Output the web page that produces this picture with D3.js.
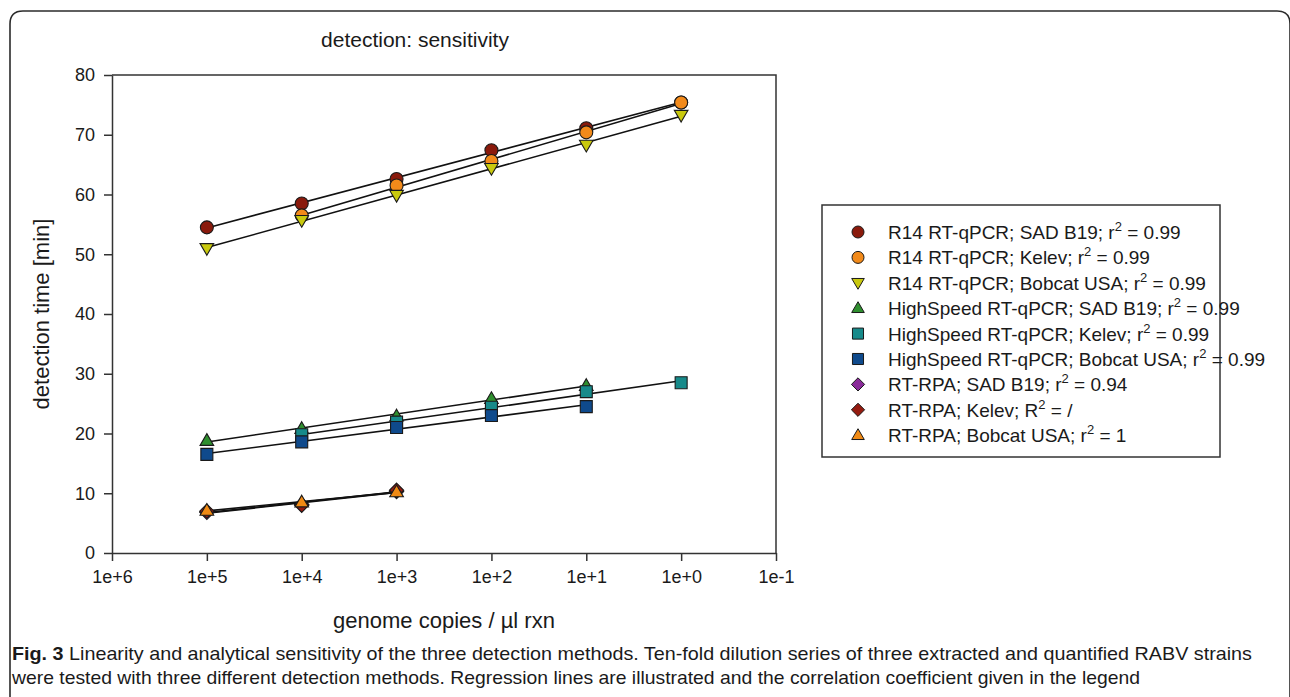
<!DOCTYPE html>
<html>
<head>
<meta charset="utf-8">
<script src="https://cdn.jsdelivr.net/npm/d3@7"></script>
<style>
  html, body { margin: 0; padding: 0; background: #fff; }
  svg { display: block; }
  text { font-family: "Liberation Sans", Arial, sans-serif; fill: #1a1a1a; }
</style>
</head>
<body>
<svg id="chart" width="1290" height="697"></svg>
<script>
// ---------- DATA ----------
const xTicks = [1e6, 1e5, 1e4, 1e3, 1e2, 1e1, 1e0, 1e-1];
const xTickLabels = ["1e+6", "1e+5", "1e+4", "1e+3", "1e+2", "1e+1", "1e+0", "1e-1"];
const yTicks = [0, 10, 20, 30, 40, 50, 60, 70, 80];

const r14SadX = [1e5, 1e4, 1e3, 1e2, 1e1, 1e0];
const r14SadY = [54.5, 58.5, 62.6, 67.4, 71.1, 75.4];
const r14KelevX = [1e4, 1e3, 1e2, 1e1, 1e0];
const r14KelevY = [56.5, 61.5, 65.6, 70.4, 75.4];
const r14BobcatX = [1e5, 1e4, 1e3, 1e2, 1e1, 1e0];
const r14BobcatY = [51.0, 55.7, 59.9, 64.4, 68.3, 73.3];

const hsSadX = [1e5, 1e4, 1e3, 1e2, 1e1];
const hsSadY = [18.8, 20.8, 22.9, 25.8, 28.0];
const hsKelevX = [1e4, 1e3, 1e2, 1e1, 1e0];
const hsKelevY = [19.8, 21.9, 24.4, 27.0, 28.5];
const hsBobcatX = [1e5, 1e4, 1e3, 1e2, 1e1];
const hsBobcatY = [16.5, 18.6, 21.0, 23.0, 24.5];

const rpaSadX = [1e5, 1e4, 1e3];
const rpaSadY = [6.8, 8.1, 10.3];
const rpaKelevX = [1e5, 1e4, 1e3];
const rpaKelevY = [7.0, 8.0, 10.5];
const rpaBobcatX = [1e5, 1e4, 1e3];
const rpaBobcatY = [7.1, 8.5, 10.2];

const seriesNames = [
  ["R14 RT-qPCR; SAD B19; ", "r", "2", " = 0.99"],
  ["R14 RT-qPCR; Kelev; ", "r", "2", " = 0.99"],
  ["R14 RT-qPCR; Bobcat USA; ", "r", "2", " = 0.99"],
  ["HighSpeed RT-qPCR; SAD B19; ", "r", "2", " = 0.99"],
  ["HighSpeed RT-qPCR; Kelev; ", "r", "2", " = 0.99"],
  ["HighSpeed RT-qPCR; Bobcat USA; ", "r", "2", " = 0.99"],
  ["RT-RPA; SAD B19; ", "r", "2", " = 0.94"],
  ["RT-RPA; Kelev; ", "R", "2", " = /"],
  ["RT-RPA; Bobcat USA; ", "r", "2", " = 1"]
];
const seriesColors = ["#8a1a0c", "#f28a1a", "#c9c90e", "#2f8f2f", "#178a8a", "#0f4a8c", "#8a2a9a", "#951b10", "#f08a14"];
const seriesShapes = ["circle", "circle", "down", "up", "square", "square", "diamond", "diamond", "up"];

const seriesX = [r14SadX, r14KelevX, r14BobcatX, hsSadX, hsKelevX, hsBobcatX, rpaSadX, rpaKelevX, rpaBobcatX];
const seriesY = [r14SadY, r14KelevY, r14BobcatY, hsSadY, hsKelevY, hsBobcatY, rpaSadY, rpaKelevY, rpaBobcatY];

const captionBold = "Fig. 3";
const captionLine1 = " Linearity and analytical sensitivity of the three detection methods. Ten-fold dilution series of three extracted and quantified RABV strains";
const captionLine2 = "were tested with three different detection methods. Regression lines are illustrated and the correlation coefficient given in the legend";

// ---------- LAYOUT ----------
const svg = d3.select("#chart");
const plot = { left: 112, right: 776, top: 75, bottom: 553 };

const x = d3.scaleLog().domain([1e6, 1e-1]).range([plot.left, plot.right]);
const y = d3.scaleLinear().domain([0, 80]).range([plot.bottom, plot.top]);

// outer rounded frame
svg.append("path")
  .attr("d", "M10,700 L10,24 Q10,11 23,11 L1277,11 Q1290,11 1290,24 L1290,700")
  .attr("fill", "none").attr("stroke", "#2b2b2b").attr("stroke-width", 1.6);

// plot frame (top and right)
svg.append("path")
  .attr("d", `M${plot.left},${plot.top} L${plot.right},${plot.top} L${plot.right},${plot.bottom}`)
  .attr("fill", "none").attr("stroke", "#333").attr("stroke-width", 1.5);

// axes
const xAxis = d3.axisBottom(x).tickValues(xTicks)
  .tickFormat((d, i) => xTickLabels[i]).tickSizeInner(8).tickSizeOuter(0).tickPadding(9);
const gx = svg.append("g").attr("transform", `translate(0,${plot.bottom})`).call(xAxis);
gx.selectAll("text").attr("font-size", 18).attr("fill", "#1a1a1a").attr("font-family", "Liberation Sans, Arial, sans-serif");

const yAxis = d3.axisLeft(y).tickValues(yTicks).tickSizeInner(8).tickSizeOuter(0).tickPadding(9);
const gy = svg.append("g").attr("transform", `translate(${plot.left},0)`).call(yAxis);
gy.selectAll("text").attr("font-size", 18).attr("fill", "#1a1a1a").attr("font-family", "Liberation Sans, Arial, sans-serif");

[gx, gy].forEach(g => {
  g.select(".domain").attr("stroke", "#333").attr("stroke-width", 1.5);
  g.selectAll(".tick line").attr("stroke", "#333").attr("stroke-width", 1.5);
});

// title and axis labels
svg.append("text").attr("x", 415).attr("y", 47).attr("text-anchor", "middle")
  .attr("font-size", 21).text("detection: sensitivity");
svg.append("text").attr("x", (plot.left + plot.right) / 2).attr("y", 628).attr("text-anchor", "middle")
  .attr("font-size", 22).text("genome copies / µl rxn");
svg.append("text").attr("transform", `translate(49,${(plot.top + plot.bottom) / 2}) rotate(-90)`)
  .attr("text-anchor", "middle").attr("font-size", 22).text("detection time [min]");

// ---------- symbols ----------
function symbolPath(shape, s) {
  if (shape === "circle") return d3.symbol(d3.symbolCircle, Math.PI * (s / 2) * (s / 2))();
  if (shape === "square") return d3.symbol(d3.symbolSquare, s * s * 0.85)();
  if (shape === "up" || shape === "down") {
    const h = s * 0.9, w = s * 1.05;
    const p = shape === "up"
      ? [[0, -h * 0.6], [w / 2, h * 0.4], [-w / 2, h * 0.4]]
      : [[0, h * 0.6], [w / 2, -h * 0.4], [-w / 2, -h * 0.4]];
    return "M" + p.map(q => q.join(",")).join("L") + "Z";
  }
  if (shape === "diamond") {
    const r = s * 0.55;
    return `M0,${-r}L${r},0L0,${r}L${-r},0Z`;
  }
}

// ---------- regression lines ----------
const lineG = svg.append("g");
seriesX.forEach((xs, i) => {
  const ys = seriesY[i];
  const lx = xs.map(v => Math.log10(v));
  const mx = d3.mean(lx), my = d3.mean(ys);
  const sxy = d3.sum(lx, (v, k) => (v - mx) * (ys[k] - my));
  const sxx = d3.sum(lx, v => (v - mx) * (v - mx));
  const b = sxy / sxx, a = my - b * mx;
  const ext = d3.extent(xs);
  const pts = ext.map(v => [x(v), y(a + b * Math.log10(v))]);
  lineG.append("path").attr("d", d3.line()(pts))
    .attr("fill", "none").attr("stroke", "#111").attr("stroke-width", 1.6);
});

// ---------- markers ----------
const markG = svg.append("g");
seriesX.forEach((xs, i) => {
  markG.selectAll(null).data(xs.map((v, k) => [v, seriesY[i][k]])).join("path")
    .attr("d", symbolPath(seriesShapes[i], 13))
    .attr("transform", d => `translate(${x(d[0])},${y(d[1])})`)
    .attr("fill", seriesColors[i]).attr("stroke", "#1a1a1a").attr("stroke-width", 1.1);
});

// ---------- legend ----------
const legend = svg.append("g");
legend.append("rect").attr("x", 822).attr("y", 205).attr("width", 398).attr("height", 252)
  .attr("fill", "#fff").attr("stroke", "#333").attr("stroke-width", 1.5);
seriesNames.forEach((nm, i) => {
  const cy = 232 + i * 25.4;
  legend.append("path").attr("d", symbolPath(seriesShapes[i], 12))
    .attr("transform", `translate(858,${cy})`)
    .attr("fill", seriesColors[i]).attr("stroke", "#1a1a1a").attr("stroke-width", 1);
  const t = legend.append("text").attr("x", 888).attr("y", cy + 7).attr("font-size", 19);
  t.append("tspan").text(nm[0] + nm[1]);
  t.append("tspan").attr("dy", -8).attr("font-size", 13).text(nm[2]);
  t.append("tspan").attr("dy", 8).text(nm[3]);
});

// ---------- caption ----------
const cap1 = svg.append("text").attr("x", 12).attr("y", 660).attr("font-size", 19)
  .attr("font-family", "Open Sans, sans-serif")
  .attr("textLength", 1240).attr("lengthAdjust", "spacingAndGlyphs");
cap1.append("tspan").attr("font-weight", "bold").text(captionBold);
cap1.append("tspan").text(captionLine1);
svg.append("text").attr("x", 12).attr("y", 684).attr("font-size", 19)
  .attr("font-family", "Open Sans, sans-serif")
  .attr("textLength", 1128).attr("lengthAdjust", "spacingAndGlyphs")
  .text(captionLine2);
</script>
</body>
</html>
